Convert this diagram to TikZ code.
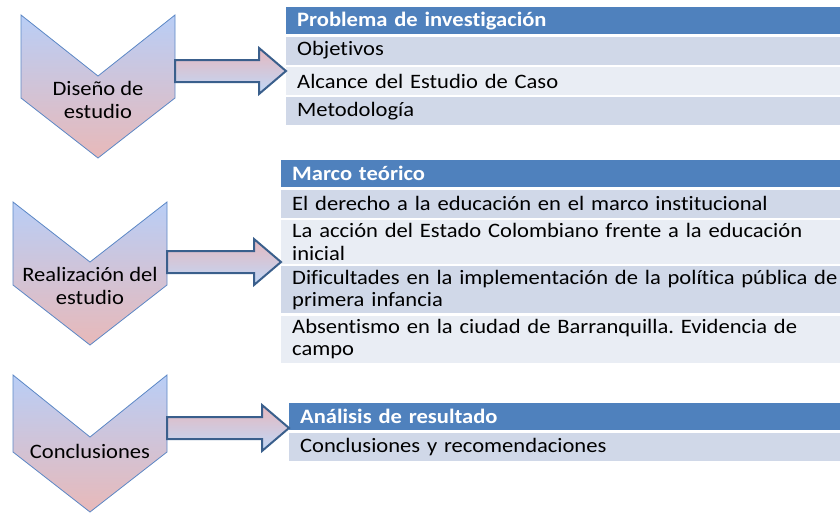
\documentclass[tikz,border=0pt]{standalone}
\usepackage{fontspec}
\setmainfont{Carlito}[FakeStretch=1.1, Ligatures=NoCommon]
\usetikzlibrary{positioning,calc}
\frenchspacing

\definecolor{hdrblue}{HTML}{4F81BD}
\definecolor{rowdark}{HTML}{D0D8E8}
\definecolor{rowlight}{HTML}{E9EDF4}
\definecolor{chevline}{HTML}{5B87C5}
\definecolor{chevtop}{HTML}{B9CEF6}
\definecolor{chevbot}{HTML}{E8B9B9}
\definecolor{arrline}{HTML}{3A5F8C}
\definecolor{arrtop}{HTML}{E3BAC2}
\definecolor{arrbot}{HTML}{C2D6F4}

\pgfdeclareverticalshading{arrshade}{100bp}{color(0bp)=(arrbot); color(28bp)=(arrbot);
  color(72bp)=(arrtop); color(100bp)=(arrtop)}

\tikzset{
  txt/.style={font=\fontsize{20.5}{22.5}\selectfont},
  chev/.style={draw=chevline, line width=0.8pt, top color=chevtop, bottom color=chevbot},
  chevtext/.style={txt, align=center},
  barrow/.style={draw=arrline, line width=2pt, line join=miter, shading=arrshade},
  cell/.style={txt, text width=560pt, inner xsep=11pt, inner ysep=3.5pt, minimum height=28pt, align=left},
  dark/.style={cell, fill=rowdark},
  light/.style={cell, fill=rowlight},
  hdr/.style={cell, fill=hdrblue, text=white, minimum height=27pt,
    font=\fontsize{20.5}{22.5}\selectfont\bfseries, anchor=north west},
}

% block arrow from a start point to a tip
\newcommand{\bigarrow}[2]{%
  \draw[barrow] let \p1=(#1), \p2=(#2) in
    (\x1,\y1+11pt) -- (\x2-27pt,\y1+11pt) -- (\x2-27pt,\y1+23pt) -- (\x2,\y1)
    -- (\x2-27pt,\y1-23pt) -- (\x2-27pt,\y1-11pt) -- (\x1,\y1-11pt) -- cycle;}

\begin{document}
\begin{tikzpicture}[x=1pt,y=-1pt]
  \useasboundingbox (0,0) rectangle (840,514);

  % chevrons
  \draw[chev] (21,15) -- (98,76) -- (175,15) -- (175,98) -- (98,158) -- (21,98) -- cycle;
  \draw[chev] (13,202) -- (90,262) -- (167,202) -- (167,285) -- (90,345) -- (13,285) -- cycle;
  \draw[chev] (13,375) -- (90,437) -- (167,375) -- (167,452) -- (90,512) -- (13,452) -- cycle;
  \node[chevtext] (diseno) at (98,100) {Diseño de\\estudio};
  \node[chevtext] (realiz) at (90,286) {Realización del\\estudio};
  \node[chevtext] (concl) at (90,451) {Conclusiones};

  % first table
  \node[hdr] (hdr1) at (286,7) {Problema de investigación};
  \node[dark, below=2pt of hdr1] (objet) {Objetivos};
  \node[light, below=2pt of objet] (alcan) {Alcance del Estudio de Caso};
  \node[dark, below=2pt of alcan] (metod) {Metodología};

  % second table
  \node[hdr] (hdr2) at (281,160) {Marco teórico};
  \node[dark, below=2pt of hdr2] (derecho) {El derecho a la educación en el marco institucional};
  \node[light, below=2pt of derecho] (accion) {La acción del Estado Colombiano frente a la educación\\inicial};
  \node[dark, below=2pt of accion] (dificul) {Dificultades en la implementación de la política pública de\\primera infancia};
  \node[light, below=2pt of dificul] (absent) {Absentismo en la ciudad de Barranquilla. Evidencia de\\campo};

  % third table
  \node[hdr] (hdr3) at (289,403) {Análisis de resultado};
  \node[dark, below=2pt of hdr3] (recom) {Conclusiones y recomendaciones};

  % arrows
  \coordinate (a1) at (175,71);
  \coordinate (a2) at (167,262);
  \coordinate (a3) at (167,428);
  \bigarrow{a1}{hdr1.west |- a1}
  \bigarrow{a2}{hdr2.west |- a2}
  \bigarrow{a3}{hdr3.west |- a3}
\end{tikzpicture}
\end{document}
